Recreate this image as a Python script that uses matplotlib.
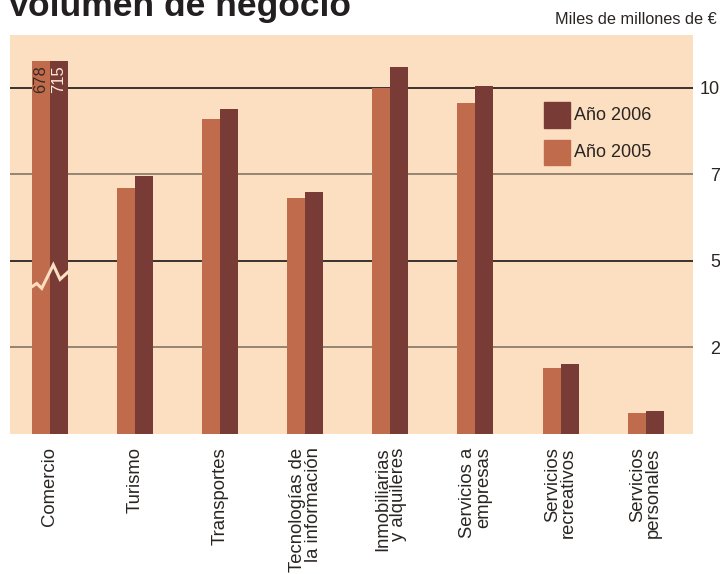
import matplotlib
matplotlib.use("Agg")
import matplotlib.pyplot as plt
from matplotlib.patches import Rectangle
import numpy as np

plt.rcParams['font.family'] = ['Liberation Sans', 'DejaVu Sans']

categories = ["Comercio", "Turismo", "Transportes", "Tecnologías de\nla información",
              "Inmobiliarias\ny alquileres", "Servicios a\nempresas",
              "Servicios\nrecreativos", "Servicios\npersonales"]
values_2005 = [678, 71, 91, 68, 100, 95.5, 19, 6]
values_2006 = [715, 74.5, 94, 70, 106, 100.5, 20, 6.5]
yticks = [25, 50, 75, 100]
# the labels as they show in the (edge-cut) original
ytick_labels = ["2", "5", "7", "10"]
series_names = ["Año 2006", "Año 2005"]

# comercio is off the scale: its bars are cut at this height and labelled
cap = 107.8

bg = "#FCDFC0"
c2005 = "#C06C4C"
c2006 = "#783B36"
dark = "#2A2522"
grey = "#8C7D6C"

fig = plt.figure(figsize=(7.2, 5.74), dpi=100)
ax = fig.add_axes([10 / 720, (574 - 433.5) / 574, 683 / 720, (433.5 - 35) / 574])
ax.set_facecolor(bg)

x = np.arange(len(categories))
w = 0.2115
h2005 = np.minimum(values_2005, cap)
h2006 = np.minimum(values_2006, cap)
ax.bar(x - w / 2, h2005, w, color=c2005, zorder=2)
ax.bar(x + w / 2, h2006, w, color=c2006, zorder=2)

for i, yv in enumerate(yticks):
    ax.axhline(yv, color=dark if i % 2 else grey, lw=1.3, zorder=1)

# break mark on the comercio bars
bx = np.array([-0.2115, -0.156, -0.097, 0.039, 0.118, 0.215])
by = np.array([42.5, 43.4, 42.0, 48.8, 44.6, 46.8])
ax.plot(x[0] + bx, by, color=bg, lw=2.2, zorder=3, solid_joinstyle='miter')

ax.text(x[0] - w / 2, cap - 1.2, str(values_2005[0]), rotation=90, ha='center',
        va='top', fontsize=12, color="#3A2A25", zorder=4)
ax.text(x[0] + w / 2, cap - 1.2, str(values_2006[0]), rotation=90, ha='center',
        va='top', fontsize=12, color="#FCE8D6", zorder=4)

ax.set_xlim(-0.470, 7.556)
ax.set_ylim(0, 115.3)
for s in ax.spines.values():
    s.set_visible(False)

ax.set_xticks(x)
ax.set_xticklabels(categories, rotation=90, ha='center', va='top',
                   multialignment='right', fontsize=13.3, linespacing=0.9, color=dark)
ax.yaxis.tick_right()
ax.set_yticks(yticks)
ax.set_yticklabels(ytick_labels, fontsize=13, color=dark, ha='right')
ax.tick_params(axis='x', length=0, pad=10)
ax.tick_params(axis='y', length=0, pad=19.5)

# legend, drawn by hand in figure pixels
for name, col, top, hgt in zip(series_names, [c2006, c2005], [102, 140], [26, 25]):
    fig.add_artist(Rectangle((544 / 720, 1 - (top + hgt) / 574), 26 / 720, hgt / 574,
                             transform=fig.transFigure, color=col))
    fig.text(574 / 720, 1 - (top + hgt / 2) / 574, name, fontsize=13, va='center',
             color=dark)

fig.text(7 / 720, 1 - 16 / 574, "Volumen de negocio", fontsize=25.5,
         fontweight='bold', va='baseline', color="#231F20")
fig.text(717 / 720, 1 - 24 / 574, "Miles de millones de €", fontsize=11.7,
         ha='right', va='baseline', color=dark)

fig.savefig("out.png", dpi=100)
